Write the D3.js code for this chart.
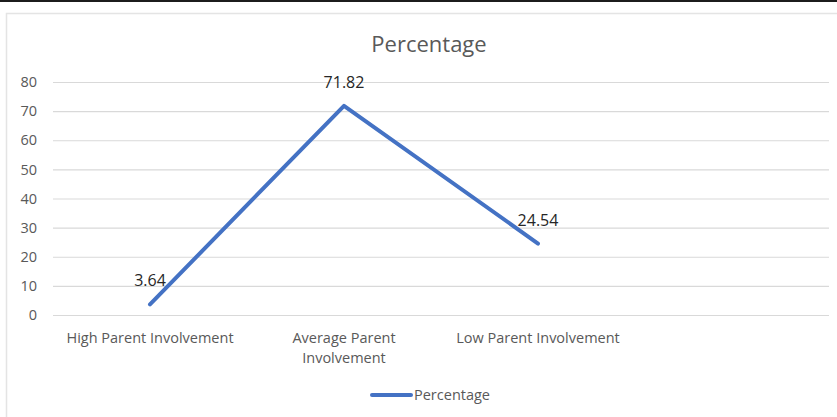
<!DOCTYPE html>
<html>
<head>
<meta charset="utf-8">
<script src="https://cdn.jsdelivr.net/npm/d3@7"></script>
<style>
  body { margin: 0; background: #fff; }
  text { font-family: "Open Sans", sans-serif; }
</style>
</head>
<body>
<svg id="chart"></svg>
<script>
// chart data
const categories = ["High Parent Involvement", "Average Parent Involvement", "Low Parent Involvement", ""];
const percentage = [3.64, 71.82, 24.54, null];
const yTicks = [0, 10, 20, 30, 40, 50, 60, 70, 80];
const seriesName = "Percentage";

const width = 837;
const height = 417;
const plot = { left: 53, right: 829, top: 82, bottom: 315 };

const svg = d3.select('#chart')
              .attr('width', width)
              .attr('height', height);

// dark strip at the top and light frame of the chart area
svg.append('rect')
   .attr('x', 0).attr('y', 0)
   .attr('width', width).attr('height', 2)
   .attr('fill', '#1c1c1c');

svg.append('path')
   .attr('d', `M6.5,${height} V13.5 H${width}`)
   .attr('fill', 'none')
   .attr('stroke', '#e4e4e4')
   .attr('stroke-width', 1.5);

const xScale = d3.scaleBand()
                 .domain(categories)
                 .range([plot.left, plot.right]);

const yScale = d3.scaleLinear()
                 .domain([0, 80])
                 .range([plot.bottom, plot.top]);

// gridlines + y labels
const yAxis = d3.axisLeft(yScale)
                .tickValues(yTicks)
                .tickSize(-(plot.right - plot.left))
                .tickPadding(16);

const gy = svg.append('g')
              .attr('transform', `translate(${plot.left},0)`)
              .call(yAxis);
gy.select('.domain').remove();
gy.selectAll('line').attr('stroke', '#d9d9d9').attr('stroke-width', 1.2);
gy.selectAll('text')
  .attr('fill', '#595959')
  .style('font-size', '14.5px');

// category labels
const xAxis = d3.axisBottom(xScale)
                .tickSize(0)
                .tickPadding(18);

const gx = svg.append('g')
              .attr('transform', `translate(0,${plot.bottom})`)
              .call(xAxis);
gx.select('.domain').remove();
gx.selectAll('text')
  .attr('fill', '#595959')
  .style('font-size', '14.5px');

const wrap = (texts, maxWidth) => {
    texts.each(function () {
        const t = d3.select(this);
        const words = t.text().split(' ');
        const y = t.attr('y');
        const dy = parseFloat(t.attr('dy'));
        t.text(null);
        let line = [];
        let lineNo = 0;
        let tspan = t.append('tspan').attr('x', 0).attr('y', y).attr('dy', dy + 'em');
        words.forEach(w => {
            line.push(w);
            tspan.text(line.join(' '));
            if (tspan.node().getComputedTextLength() > maxWidth && line.length > 1) {
                line.pop();
                tspan.text(line.join(' '));
                line = [w];
                lineNo++;
                tspan = t.append('tspan')
                         .attr('x', 0).attr('y', y)
                         .attr('dy', (dy + lineNo * 1.35) + 'em')
                         .text(w);
            }
        });
    });
};
gx.selectAll('text').call(wrap, xScale.bandwidth() - 22);

// the line
const points = categories.map((c, i) => ({ cat: c, value: percentage[i] }))
                         .filter(d => d.value !== null);

const line = d3.line()
               .x(d => xScale(d.cat) + xScale.bandwidth() / 2)
               .y(d => yScale(d.value));

svg.append('path')
   .datum(points)
   .attr('d', line)
   .attr('fill', 'none')
   .attr('stroke', '#4472c4')
   .attr('stroke-width', 4)
   .attr('stroke-linejoin', 'round')
   .attr('stroke-linecap', 'round');

// data labels
svg.selectAll('.label')
   .data(points)
   .enter()
   .append('text')
   .attr('class', 'label')
   .attr('x', d => xScale(d.cat) + xScale.bandwidth() / 2)
   .attr('y', d => yScale(d.value) - 18)
   .attr('text-anchor', 'middle')
   .attr('fill', '#262626')
   .style('font-size', '16px')
   .text(d => d.value.toFixed(2));

// title
svg.append('text')
   .attr('x', 429)
   .attr('y', 52)
   .attr('text-anchor', 'middle')
   .attr('fill', '#595959')
   .style('font-size', '22px')
   .text(seriesName);

// legend
const legend = svg.append('g').attr('transform', 'translate(372,395)');
legend.append('line')
      .attr('x1', 0).attr('x2', 39)
      .attr('y1', 0).attr('y2', 0)
      .attr('stroke', '#4472c4')
      .attr('stroke-width', 4)
      .attr('stroke-linecap', 'round');
legend.append('text')
      .attr('x', 42)
      .attr('y', 5)
      .attr('fill', '#595959')
      .style('font-size', '14.5px')
      .text(seriesName);
</script>
</body>
</html>
